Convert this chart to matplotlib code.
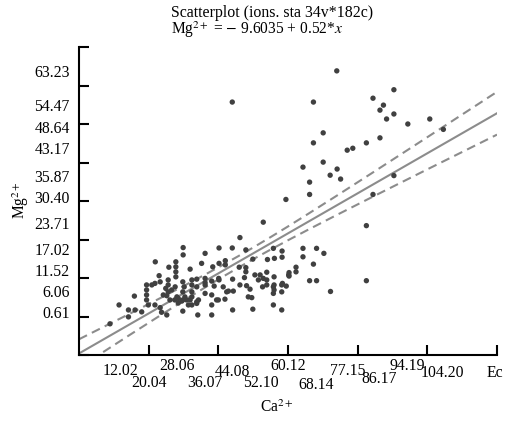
import numpy as np
import matplotlib
matplotlib.use("Agg")
import matplotlib.pyplot as plt

plt.rcParams["font.family"] = ["Liberation Serif", "DejaVu Serif"]
plt.rcParams["mathtext.fontset"] = "stix"

# Ca2+ vs Mg2+ values
ca = [
    44.0, 74.0, 67.3, 90.4, 84.4, 87.4, 86.4, 90.4, 88.3, 94.4, 100.7, 104.6,
    70.1, 67.3, 82.5, 86.4, 77.0, 78.6, 64.3, 70.1, 74.1, 72.1, 75.1, 66.2,
    66.2, 59.4, 90.4, 84.4, 52.9, 82.5, 82.5, 46.2,
    64.3, 68.2, 70.3, 64.3, 67.3, 62.3, 62.3, 60.3, 60.3, 59.5, 66.2, 68.2, 72.2,
    36.2, 40.2, 44.0, 47.9, 35.2, 38.4, 40.2, 42.0, 42.0, 31.9, 46.0, 47.9, 47.9,
    49.9, 54.1, 56.1, 58.3, 58.3, 60.2, 33.8, 36.2, 36.2, 38.1, 38.8, 40.1, 41.4,
    44.1, 47.5, 48.1, 49.1, 52.0, 52.9, 53.9, 53.9, 56.0, 52.7, 55.8, 55.8, 58.2,
    58.2, 42.9, 44.3, 32.4, 32.4, 36.2, 38.1, 41.9, 39.5, 33.8, 38.1, 48.6, 49.6,
    34.1, 38.1, 44.1, 49.9, 55.8, 58.2,
    29.9, 29.9, 21.9, 27.8, 27.8, 27.8, 27.8, 25.8, 23.0, 19.4, 19.4, 19.4, 19.4,
    20.9, 21.8, 23.3, 25.6, 25.6, 24.9, 25.6, 27.6, 29.8, 30.2, 29.8, 29.8, 29.8,
    33.8, 33.8, 15.9, 11.5, 14.2, 14.2, 16.1, 18.0, 8.9, 19.9, 21.8, 23.3, 23.7, 25.2,
    25.2, 26.1, 27.5, 28.5, 29.5, 28.1, 30.4, 31.9, 32.4,
    55.8, 26.6, 28.5, 30.9, 31.4, 32.4, 32.4, 36.2, 40.2, 42.4, 50.5,
    51.5, 56.0, 56.0, 58.4, 34.3, 40.0, 24.2, 46.2, 53.9,
]
mg = [
    55.7, 63.8, 55.7, 58.9, 56.7, 54.9, 53.6, 52.6, 51.3, 50.0, 51.3, 48.6,
    47.7, 45.1, 45.1, 46.4, 43.2, 43.7, 38.8, 40.1, 38.3, 36.7, 35.7, 34.9,
    31.7, 30.4, 36.6, 31.7, 24.5, 23.6, 9.3, 20.5,
    17.7, 17.7, 16.4, 15.5, 13.6, 12.8, 11.6, 11.4, 10.5, 7.9, 9.3, 9.3, 6.5,
    16.4, 17.8, 17.8, 17.3, 13.8, 12.9, 13.8, 14.5, 13.4, 12.3, 12.8, 12.7, 11.6,
    14.9, 14.8, 15.1, 17.0, 15.4, 10.8, 9.7, 9.9, 8.8, 9.2, 7.9, 9.9, 7.7,
    9.7, 10.1, 8.0, 7.1, 10.8, 9.9, 11.5, 9.5, 10.3, 7.7, 7.7, 6.0, 8.2,
    6.4, 6.6, 6.6, 6.4, 5.1, 6.0, 5.6, 4.5, 4.3, 3.4, 3.0, 5.1, 4.9,
    0.4, 0.4, 1.7, 1.9, 3.0, 1.7,
    17.9, 16.0, 14.2, 14.2, 12.9, 11.6, 10.3, 12.8, 10.6, 8.2, 6.9, 5.6, 4.3,
    8.2, 8.6, 9.0, 9.5, 8.2, 7.3, 6.4, 7.7, 9.0, 7.7, 6.4, 4.3, 1.4,
    7.7, 3.8, 5.3, 3.0, 1.7, -0.1, 1.7, 1.2, -1.9, 3.0, 3.0, 2.3, 1.1, 0.4,
    5.4, 4.3, 4.3, 3.5, 4.0, 5.1, 5.1, 4.3, 3.0,
    17.7, 6.9, 4.7, 4.3, 3.0, 9.5, 8.2, 8.2, 9.5, 6.4, 10.8,
    9.5, 8.2, 6.9, 8.6, 4.3, 4.3, 5.6, 8.2, 8.2,
]

# fit from the title
intercept = -9.6035
slope = 0.52

x_labels = ["12.02", "20.04", "28.06", "36.07", "44.08", "52.10", "60.12",
            "68.14", "77.15", "86.17", "94.19", "104.20"]
y_labels = ["0.61", "6.06", "11.52", "17.02", "23.71", "30.40", "35.87",
            "43.17", "48.64", "54.47", "63.23"]

# layout: how far below the axis each x label sits (pixels)
x_label_drop = [15.7, 28, 11, 28, 16.7, 28, 11, 30, 16, 24, 11, 18]

fig = plt.figure(figsize=(5.05, 4.21), dpi=100)
ax = fig.add_axes([79 / 505, 1 - 355 / 421, 418 / 505, 308 / 421])

x = np.array(ca)
y = np.array(mg)
n = len(x)
resid = y - (intercept + slope * x)
s = np.sqrt(np.sum(resid ** 2) / (n - 2))
xbar = x.mean()
sxx = np.sum((x - xbar) ** 2)
xx = np.linspace(0, 120, 300)
fit = intercept + slope * xx
half = 1.97 * s * np.sqrt(1 / n + (xx - xbar) ** 2 / sxx)

ax.plot(xx, fit, color="#8c8c8c", lw=1.5, zorder=2)
ax.plot(xx, fit + half, color="#8c8c8c", lw=1.5, dashes=(4.3, 2.6), zorder=2)
ax.plot(xx, fit - half, color="#8c8c8c", lw=1.5, dashes=(4.3, 2.6), zorder=2)
ax.scatter(x, y, s=15, color="#404040", edgecolors="none", zorder=3)

ax.set_xlim(0, 120)
ax.set_ylim(-10, 70)
ax.set_xticks(np.arange(20, 121, 20))
ax.set_yticks(np.arange(-10, 71, 10))
ax.set_xticklabels([])
ax.set_yticklabels([])
ax.tick_params(direction="in", length=7, width=1.5, color="black")
for side in ["top", "right"]:
    ax.spines[side].set_visible(False)
for side in ["left", "bottom"]:
    ax.spines[side].set_linewidth(1.5)

fs = 11.3
ytr = ax.get_yaxis_transform()
for lab in y_labels:
    ax.text(-0.022, float(lab), lab, transform=ytr, ha="right", va="center",
            fontsize=fs, clip_on=False)

xtr = ax.get_xaxis_transform()
for lab, drop in zip(x_labels, x_label_drop):
    ax.text(float(lab), -drop / 308, lab, transform=xtr, ha="center",
            va="center", fontsize=fs, clip_on=False)
ax.text(119.3, -18 / 308, "Ec", transform=xtr, ha="center", va="center",
        fontsize=fs, clip_on=False)

fig.text(171 / 505, 1 - 13 / 421, "Scatterplot (ions. sta 34v*182c)",
         ha="left", va="center", fontsize=11.4)
fig.text(171 / 505, 1 - 30 / 421, r"Mg$^{2+}$ = $-$ 9.6035 + 0.52*$x$",
         ha="left", va="center", fontsize=11.2)
fig.text(21 / 505, 1 - 200 / 421, r"Mg$^{2+}$", rotation=90, ha="center",
         va="center", fontsize=11.2)
fig.text(277 / 505, 1 - 408 / 421, r"Ca$^{2+}$", ha="center", va="center",
         fontsize=11.2)

fig.savefig("out.png", dpi=100)
